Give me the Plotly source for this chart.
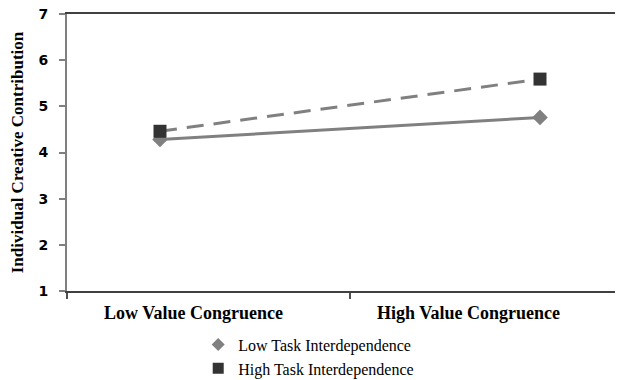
import plotly.graph_objects as go

categories = ["Low Value Congruence", "High Value Congruence"]
series_names = ["Low Task Interdependence", "High Task Interdependence"]
low_task = [4.28, 4.76]
high_task = [4.46, 5.59]
y_ticks = [1, 2, 3, 4, 5, 6, 7]

x_idx = list(range(len(categories)))

# pixel geometry of the plot area (width 556 px, 380 px between categories)
x_lo = -93 / 380
x_hi = 1 + 83 / 380

fig = go.Figure()
fig.add_trace(go.Scatter(
    x=x_idx, y=low_task, mode="lines+markers", showlegend=False,
    line=dict(color="#808080", width=3),
    marker=dict(symbol="diamond", size=12, color="#808080"),
))
fig.add_trace(go.Scatter(
    x=x_idx, y=high_task, mode="lines+markers", showlegend=False,
    line=dict(color="#808080", width=3, dash="17px,10px"),
    marker=dict(symbol="square", size=13, color="#333333"),
))
# legend entries (markers only, as in the reference)
fig.add_trace(go.Scatter(
    x=[None], y=[None], mode="markers", name=series_names[0],
    marker=dict(symbol="diamond", size=10, color="#808080"),
))
fig.add_trace(go.Scatter(
    x=[None], y=[None], mode="markers", name=series_names[1],
    marker=dict(symbol="square", size=11, color="#333333"),
))

for i, c in enumerate(categories):
    fig.add_annotation(
        x=[0.227, 0.723][i], xref="paper", y=-0.08, yref="paper",
        text="<b>" + c + "</b>", showarrow=False,
        xanchor="center", yanchor="middle",
        font=dict(family="Liberation Serif", size=18, color="#000000"),
    )

# page body has an 8px margin, so the figure is sized to fit the 623x380 window
fig.update_layout(
    width=615, height=372,
    margin=dict(l=59, r=0, t=6, b=89, autoexpand=False),
    paper_bgcolor="white", plot_bgcolor="white",
    showlegend=True,
    legend=dict(
        x=0.236, xanchor="left", y=-0.132, yanchor="top",
        font=dict(family="Liberation Serif", size=16, color="#000000"),
        bgcolor="rgba(0,0,0,0)",
    ),
    xaxis=dict(
        range=[x_lo, x_hi], showgrid=False, zeroline=False, automargin=False,
        showline=True, linecolor="#404040", linewidth=2, mirror=True,
        tickmode="array", tickvals=[x_lo, 0.5], ticktext=["", ""],
        ticks="outside", ticklen=6, tickcolor="#505050", tickwidth=2,
    ),
    yaxis=dict(
        range=[1, 7], showgrid=False, zeroline=False, automargin=False,
        showline=True, linecolor="#808080", linewidth=2,
        tickmode="array", tickvals=y_ticks,
        ticks="outside", ticklen=6, tickcolor="#808080", tickwidth=1.5,
        ticklabelstandoff=8, ticklabeloverflow="allow",
        tickfont=dict(family="DejaVu Sans", size=14, color="#000000", weight="bold"),
        title=dict(text="<b>Individual Creative Contribution</b>", standoff=13,
                   font=dict(family="Liberation Serif", size=17, color="#000000")),
    ),
)

fig.write_html("out.html")
